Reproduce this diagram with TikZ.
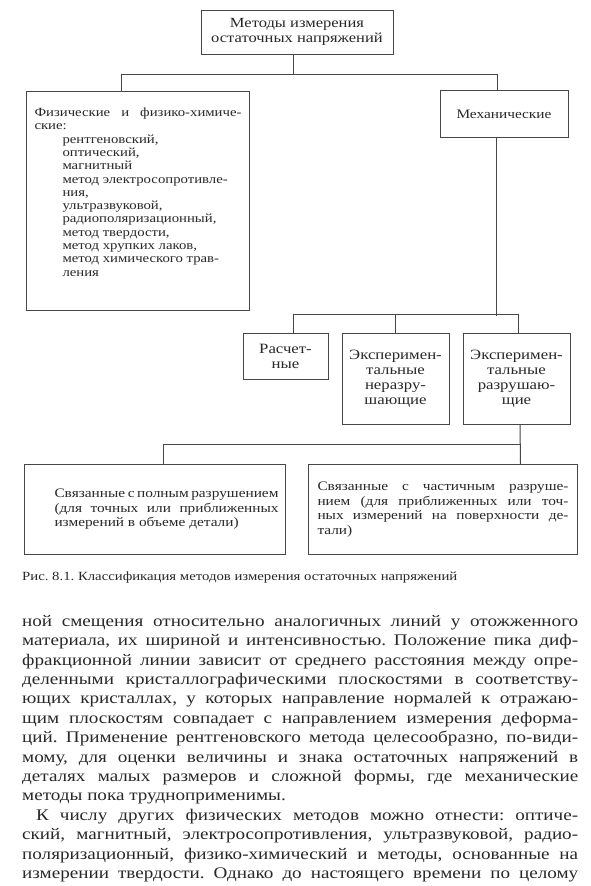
\documentclass[tikz,border=0pt]{standalone}
\usepackage{fontspec}
\setmainfont[FakeStretch=1.18]{Liberation Serif}
\usetikzlibrary{positioning}
\frenchspacing

\begin{document}
\begin{tikzpicture}[x=1pt,y=-1pt]
	\definecolor{inkColour}{RGB}{40, 40, 40}
	\definecolor{lineColour}{RGB}{70, 70, 70}
	\tikzset{
		box/.style={draw=lineColour, line width=1pt, text=inkColour, inner sep=0pt, align=center,
			font=\fontsize{13pt}{14.5pt}\selectfont},
		link/.style={draw=lineColour, line width=1pt},
		pagetext/.style={text=inkColour, inner sep=0pt, anchor=north west}
	}

	\useasboundingbox[fill=white] (0,0) rectangle (590,886);

	% top of the scheme
	\node[box, minimum width=192pt, minimum height=44pt, font=\fontsize{14pt}{14.5pt}\selectfont] (methods) at (297,32) {Методы измерения\\остаточных напряжений};

	\node[box, anchor=north west, inner xsep=8pt, align=left, font=\fontsize{12.5pt}{13.3pt}\selectfont] (phys) at (26,91)
		{\parbox[c][219pt][t]{207pt}{\rule{0pt}{25pt}Физические и физико-химиче-\linebreak
		ские:\\
		\hspace*{28pt}рентгеновский,\\
		\hspace*{28pt}оптический,\\
		\hspace*{28pt}магнитный\\
		\hspace*{28pt}метод электросопротивле-\\
		\hspace*{28pt}ния,\\
		\hspace*{28pt}ультразвуковой,\\
		\hspace*{28pt}радиополяризационный,\\
		\hspace*{28pt}метод твердости,\\
		\hspace*{28pt}метод хрупких лаков,\\
		\hspace*{28pt}метод химического трав-\\
		\hspace*{28pt}ления}};
	\node[box, minimum width=128pt, minimum height=47pt] (mech) at (504,114) {Механические};

	% mechanical methods
	\node[box, minimum width=85pt, minimum height=46pt, font=\fontsize{14.2pt}{15pt}\selectfont] (calc) at (285.5,356) {Расчет-\\ные};
	\node[box, minimum width=107pt, minimum height=91pt, font=\fontsize{14.2pt}{15pt}\selectfont] (nondes) at (395.5,378.5) {Эксперимен-\\тальные\\неразру-\\шающие};
	\node[box, minimum width=107pt, minimum height=91pt, font=\fontsize{14.2pt}{15pt}\selectfont] (destr) at (516.5,378.5) {Эксперимен-\\тальные\\разрушаю-\\щие};

	% destructive methods
	\node[box, anchor=north west, minimum width=261pt, minimum height=90pt, align=left] (full) at (24,464)
		{\hspace*{30pt}\parbox{224pt}{Связанные с полным разрушением\linebreak
		(для точных или приближенных\linebreak
		измерений в объеме детали)}\hspace*{7pt}};
	\node[box, anchor=north west, minimum width=269pt, minimum height=90pt, align=left] (part) at (308,464)
		{\parbox{251pt}{Связанные с частичным разруше-\linebreak
		нием (для приближенных или точ-\linebreak
		ных измерений на поверхности де-\linebreak
		тали)}};

	\draw[link] ([xshift=-4pt]methods.south) -- ++(0,20);
	\draw[link] ([xshift=-17pt]phys.north) -- ++(0,-17) -| ([xshift=-7pt]mech.north);
	\draw[link] ([xshift=-8pt]mech.south) -- ++(0,178);
	\draw[link] ([xshift=7.5pt]calc.north) -- ++(0,-18) -| ([xshift=1.5pt]destr.north);
	\draw[link] (nondes.north) -- ++(0,-18);
	\draw[link] ([xshift=3.5pt]destr.south) -- ([xshift=77.5pt]part.north);
	\draw[link] ([xshift=8.5pt]full.north) -- ++(0,-20) -| ([xshift=77.5pt]part.north);

	\node[pagetext, anchor=west, font=\fontsize{12.5pt}{14pt}\selectfont] (caption) at (22,577)
		{Рис. 8.1. Классификация методов измерения остаточных напряжений};

	\node[pagetext, font=\fontsize{16.2pt}{19.4pt}\selectfont] (body) at (22,615)
		{\parbox{556pt}{\hyphenpenalty=10000 \exhyphenpenalty=10000
		ной смещения относительно аналогичных линий у отожженного\linebreak
		материала, их шириной и интенсивностью. Положение пика диф-\linebreak
		фракционной линии зависит от среднего расстояния между опре-\linebreak
		деленными кристаллографическими плоскостями в соответству-\linebreak
		ющих кристаллах, у которых направление нормалей к отражаю-\linebreak
		щим плоскостям совпадает с направлением измерения деформа-\linebreak
		ций. Применение рентгеновского метода целесообразно, по\mbox{-}види-\linebreak
		мому, для оценки величины и знака остаточных напряжений в\linebreak
		деталях малых размеров и сложной формы, где механические\linebreak
		методы пока трудноприменимы.\par
		\hspace*{14pt}К числу других физических методов можно отнести: оптиче-\linebreak
		ский, магнитный, электросопротивления, ультразвуковой, радио-\linebreak
		поляризационный, физико\mbox{-}химический и методы, основанные на\linebreak
		измерении твердости. Однако до настоящего времени по целому\parfillskip=0pt\par}};
\end{tikzpicture}
\end{document}
